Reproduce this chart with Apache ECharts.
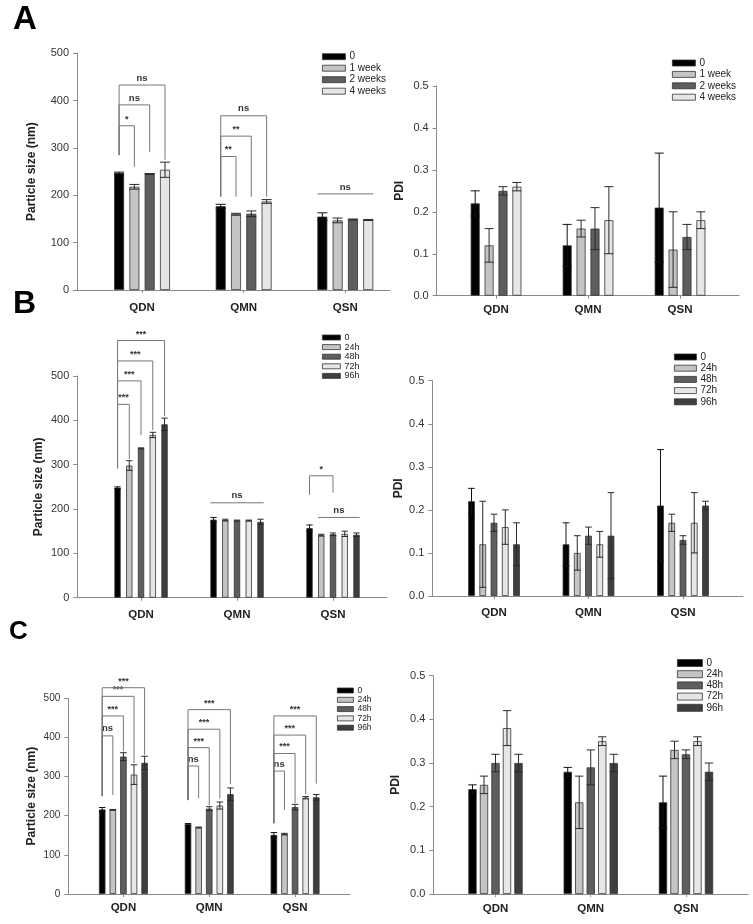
<!DOCTYPE html>
<html>
<head>
<meta charset="utf-8">
<script src="https://cdn.jsdelivr.net/npm/echarts@6/dist/echarts.min.js"></script>
<style>
  html, body { margin: 0; padding: 0; background: #fff; }
  #main { width: 753px; height: 924px; }
</style>
</head>
<body>
<div id="main"></div>
<script>
// categories and group names
const cats = ['QDN', 'QMN', 'QSN'];
const weekNames = ['0', '1 week', '2 weeks', '4 weeks'];
const hourNames = ['0', '24h', '48h', '72h', '96h'];

// rows = time point, columns = QDN, QMN, QSN
const aSize = [[247, 177, 155], [218, 160, 147], [245, 161, 149], [254, 187, 148]];
const aSizeErr = [[2, 4, 8], [5, 2, 5], [1, 6, 1], [16, 4, 1]];
const aPdi = [[0.22, 0.12, 0.21], [0.12, 0.16, 0.11], [0.25, 0.16, 0.14], [0.26, 0.18, 0.18]];
const aPdiErr = [[0.03, 0.05, 0.13], [0.04, 0.02, 0.09], [0.01, 0.05, 0.03], [0.01, 0.08, 0.02]];

const bSize = [[248, 176, 157], [298, 175, 141], [337, 174, 143], [367, 174, 144], [391, 171, 142]];
const bSizeErr = [[2, 5, 7], [11, 2, 2], [1, 1, 3], [6, 1, 6], [14, 6, 4]];
const bPdi = [[0.22, 0.12, 0.21], [0.12, 0.10, 0.17], [0.17, 0.14, 0.13], [0.16, 0.12, 0.17], [0.12, 0.14, 0.21]];
const bPdiErr = [[0.03, 0.05, 0.13], [0.10, 0.04, 0.02], [0.02, 0.02, 0.01], [0.04, 0.03, 0.07], [0.05, 0.10, 0.01]];

const cSize = [[216, 178, 151], [215, 170, 153], [351, 218, 222], [305, 226, 246], [335, 255, 247]];
const cSizeErr = [[5, 2, 6], [1, 1, 2], [10, 5, 7], [25, 9, 3], [17, 16, 7]];
const cPdi = [[0.24, 0.28, 0.21], [0.25, 0.21, 0.33], [0.30, 0.29, 0.32], [0.38, 0.35, 0.35], [0.30, 0.30, 0.28]];
const cPdiErr = [[0.01, 0.01, 0.06], [0.02, 0.06, 0.02], [0.02, 0.04, 0.01], [0.04, 0.01, 0.01], [0.02, 0.02, 0.02]];

// significance marks: [category, from bar, to bar, left foot, top, right foot, text]
// feet == null -> plain line over the bars
const aSizeSig = [
  [0, 0, 1, 285, 347, 260, '*'],
  [0, 0, 2, 285, 391, 292, 'ns'],
  [0, 0, 3, 285, 433, 275, 'ns'],
  [1, 0, 1, 197, 282, 197, '**'],
  [1, 0, 2, 197, 325, 197, '**'],
  [1, 0, 3, 197, 368, 197, 'ns'],
  [2, 0, 3, null, 203, null, 'ns']
];
const bSizeSig = [
  [0, 0, 1, 292, 436, 312, '***'],
  [0, 0, 2, 292, 489, 367, '***'],
  [0, 0, 3, 292, 534, 378, '***'],
  [0, 0, 4, 292, 580, 410, '***'],
  [1, 0, 4, null, 214, null, 'ns'],
  [2, 0, 2, 232, 275, 237, '*'],
  [2, 1, 4, null, 181, null, 'ns']
];
const cSizeSig = [
  [0, 0, 1, 250, 404, 253, 'ns'],
  [0, 0, 2, 250, 455, 365, '***'],
  [0, 0, 3, 250, 505, 334, '***'],
  [0, 0, 4, 250, 527, 356, '***'],
  [1, 0, 1, 240, 327, 244, 'ns'],
  [1, 0, 2, 240, 374, 227, '***'],
  [1, 0, 3, 240, 421, 244, '***'],
  [1, 0, 4, 240, 471, 281, '***'],
  [2, 0, 1, 181, 314, 215, 'ns'],
  [2, 0, 2, 181, 359, 232, '***'],
  [2, 0, 3, 181, 406, 255, '***'],
  [2, 0, 4, 181, 455, 282, '***']
];

const barColors = ['#000000', '#c4c4c4', '#5e5e5e', '#e6e6e6', '#3e3e3e'];
const axisGray = '#8a8a8a';
const font = 'Liberation Sans, Arial, sans-serif';

const panels = [
  { grid: { left: 77, top: 53.3, width: 313, height: 236.7 }, xMin: -0.64, xMax: 2.44,
    yMax: 500, yStep: 100, yName: 'Particle size (nm)', nameGap: 39, yFont: 11, labelMargin: 12,
    bw: 10, step: 15.3, names: weekNames, vals: aSize, errs: aSizeErr, sig: aSizeSig },
  { grid: { left: 436.7, top: 86, width: 302.3, height: 209.7 }, xMin: -0.645, xMax: 2.641,
    yMax: 0.5, yStep: 0.1, yName: 'PDI', nameGap: 31, yFont: 11, labelMargin: 8,
    bw: 9, step: 13.9, names: weekNames, vals: aPdi, errs: aPdiErr },
  { grid: { left: 77.3, top: 376, width: 309.7, height: 221.7 }, xMin: -0.664, xMax: 2.5625,
    yMax: 500, yStep: 100, yName: 'Particle size (nm)', nameGap: 33, yFont: 11, labelMargin: 11,
    bw: 6.3, step: 11.75, names: hourNames, vals: bSize, errs: bSizeErr, sig: bSizeSig },
  { grid: { left: 432.3, top: 380.7, width: 310.7, height: 215.3 }, xMin: -0.653, xMax: 2.635,
    yMax: 0.5, yStep: 0.1, yName: 'PDI', nameGap: 28, yFont: 11, labelMargin: 11,
    bw: 6.7, step: 11.25, names: hourNames, vals: bPdi, errs: bPdiErr },
  { grid: { left: 68.3, top: 698.3, width: 281.7, height: 195.7 }, xMin: -0.642, xMax: 2.64,
    yMax: 500, yStep: 100, yName: 'Particle size (nm)', nameGap: 31, yFont: 10, labelMargin: 8,
    bw: 6.5, step: 10.6, names: hourNames, vals: cSize, errs: cSizeErr, sig: cSizeSig },
  { grid: { left: 433.3, top: 675.7, width: 314.7, height: 218.3 }, xMin: -0.653, xMax: 2.651,
    yMax: 0.5, yStep: 0.1, yName: 'PDI', nameGap: 32, yFont: 11, labelMargin: 9,
    bw: 8.3, step: 11.5, names: hourNames, vals: cPdi, errs: cPdiErr }
];

const legendBoxes = [
  { left: 322, top: 51.7, w: 23, h: 6, font: 10, line: 10, gap: 1.5, names: weekNames },
  { left: 672, top: 58, w: 23, h: 6, font: 10, line: 10, gap: 1.4, names: weekNames },
  { left: 322, top: 333, w: 18, h: 5, font: 9, line: 8, gap: 0.6, names: hourNames },
  { left: 674, top: 352, w: 22, h: 6, font: 10, line: 10, gap: 1.2, names: hourNames },
  { left: 337, top: 686, w: 16, h: 5, font: 8.5, line: 8, gap: 0.3, names: hourNames },
  { left: 677, top: 658, w: 25, h: 7, font: 10, line: 10, gap: 1.2, names: hourNames }
];

const grids = [], xAxes = [], yAxes = [], series = [];

panels.forEach((p, g) => {
  const n = p.names.length;
  grids.push(Object.assign({ containLabel: false }, p.grid));
  xAxes.push({
    type: 'value', gridIndex: g, min: p.xMin, max: p.xMax,
    splitLine: { show: false },
    axisLine: { show: true, onZero: false, lineStyle: { color: axisGray, width: 1 } },
    axisTick: { show: true, length: 3, customValues: [0, 1, 2], lineStyle: { color: axisGray } },
    axisLabel: {
      customValues: [0, 1, 2], formatter: v => cats[Math.round(v)] || '',
      fontSize: 11.5, fontWeight: 'bold', color: '#222', margin: p.labelMargin
    }
  });
  yAxes.push({
    type: 'value', gridIndex: g, min: 0, max: p.yMax, interval: p.yStep,
    name: p.yName, nameLocation: 'middle', nameGap: p.nameGap,
    nameTextStyle: { fontSize: 12, fontWeight: 'bold', color: '#222' },
    splitLine: { show: false },
    axisLine: { show: true, onZero: false, lineStyle: { color: axisGray, width: 1 } },
    axisTick: { show: true, length: 4, lineStyle: { color: axisGray } },
    axisLabel: {
      fontSize: p.yFont, color: '#333', margin: 8,
      formatter: v => p.yMax < 1 ? v.toFixed(1) : String(v)
    }
  });

  // bars
  p.names.forEach((name, s) => {
    series.push({
      type: 'bar', name, xAxisIndex: g, yAxisIndex: g,
      data: cats.map((c, i) => [i, p.vals[s][i]]),
      barWidth: p.bw, barGap: ((p.step - p.bw) / p.bw * 100) + '%',
      itemStyle: { color: barColors[s], borderColor: '#333', borderWidth: 0.8 },
      silent: true
    });
  });

  const offset = s => (s - (n - 1) / 2) * p.step;

  // error bars
  const errData = [];
  p.vals.forEach((row, s) => row.forEach((v, c) => errData.push([c, s, v, p.errs[s][c]])));
  series.push({
    type: 'custom', xAxisIndex: g, yAxisIndex: g, clip: false, silent: true, z: 5,
    data: errData, encode: { x: 0, y: 2 },
    renderItem(params, api) {
      const c = api.value(0), s = api.value(1), v = api.value(2), e = api.value(3);
      const top = api.coord([c, v + e]);
      const bot = api.coord([c, v - e]);
      const x = top[0] + offset(s), h = p.bw / 2;
      const st = { stroke: s === 0 ? '#111' : '#2a2a2a', lineWidth: 1 };
      return {
        type: 'group', children: [
          { type: 'line', shape: { x1: x, y1: top[1], x2: x, y2: bot[1] }, style: st },
          { type: 'line', shape: { x1: x - h, y1: top[1], x2: x + h, y2: top[1] }, style: st },
          { type: 'line', shape: { x1: x - h, y1: bot[1], x2: x + h, y2: bot[1] }, style: st }
        ]
      };
    }
  });

  // significance brackets
  if (p.sig) {
    series.push({
      type: 'custom', xAxisIndex: g, yAxisIndex: g, clip: false, silent: true, z: 6,
      data: p.sig.map(r => [r[0], r[1], r[2], r[4]]), encode: { x: 0, y: 3 },
      renderItem(params, api) {
        const r = p.sig[params.dataIndex];
        const pt = api.coord([r[0], r[4]]);
        let xl = pt[0] + offset(r[1]), xr = pt[0] + offset(r[2]);
        const st = { stroke: '#777', lineWidth: 1, fill: null };
        const kids = [];
        if (r[3] == null) {
          xl -= p.bw / 2; xr += p.bw / 2;
          kids.push({ type: 'line', shape: { x1: xl, y1: pt[1], x2: xr, y2: pt[1] }, style: st });
        } else {
          const yl = api.coord([r[0], r[3]])[1], yr = api.coord([r[0], r[5]])[1];
          kids.push({ type: 'polyline', shape: { points: [[xl, yl], [xl, pt[1]], [xr, pt[1]], [xr, yr]] }, style: st });
        }
        kids.push({
          type: 'text',
          style: {
            x: (xl + xr) / 2, y: pt[1] - 2, text: r[6], align: 'center', verticalAlign: 'bottom',
            fontSize: r[6] === 'ns' ? 9.5 : 9, fontWeight: 'bold', fontFamily: font, fill: '#333'
          }
        });
        return { type: 'group', children: kids };
      }
    });
  }
});

const legends = legendBoxes.map(l => ({
  orient: 'vertical', left: l.left, top: l.top, padding: 0,
  itemWidth: l.w, itemHeight: l.h, itemGap: l.gap, icon: 'rect', selectedMode: false,
  itemStyle: { borderWidth: 0.8, borderColor: '#333' },
  textStyle: { fontSize: l.font, lineHeight: l.line, color: '#222', padding: [0, 0, 0, -1] },
  data: l.names
}));

const chart = echarts.init(document.getElementById('main'), null, { renderer: 'canvas' });
chart.setOption({
  animation: false,
  backgroundColor: '#fff',
  textStyle: { fontFamily: font },
  title: [
    { text: 'A', left: 13, top: 3, padding: 0, textStyle: { fontSize: 33, fontWeight: 'bold', color: '#000' } },
    { text: 'B', left: 13, top: 288, padding: 0, textStyle: { fontSize: 32, fontWeight: 'bold', color: '#000' } },
    { text: 'C', left: 9, top: 619, padding: 0, textStyle: { fontSize: 26, fontWeight: 'bold', color: '#000' } }
  ],
  legend: legends,
  grid: grids,
  xAxis: xAxes,
  yAxis: yAxes,
  series
});
</script>
</body>
</html>
